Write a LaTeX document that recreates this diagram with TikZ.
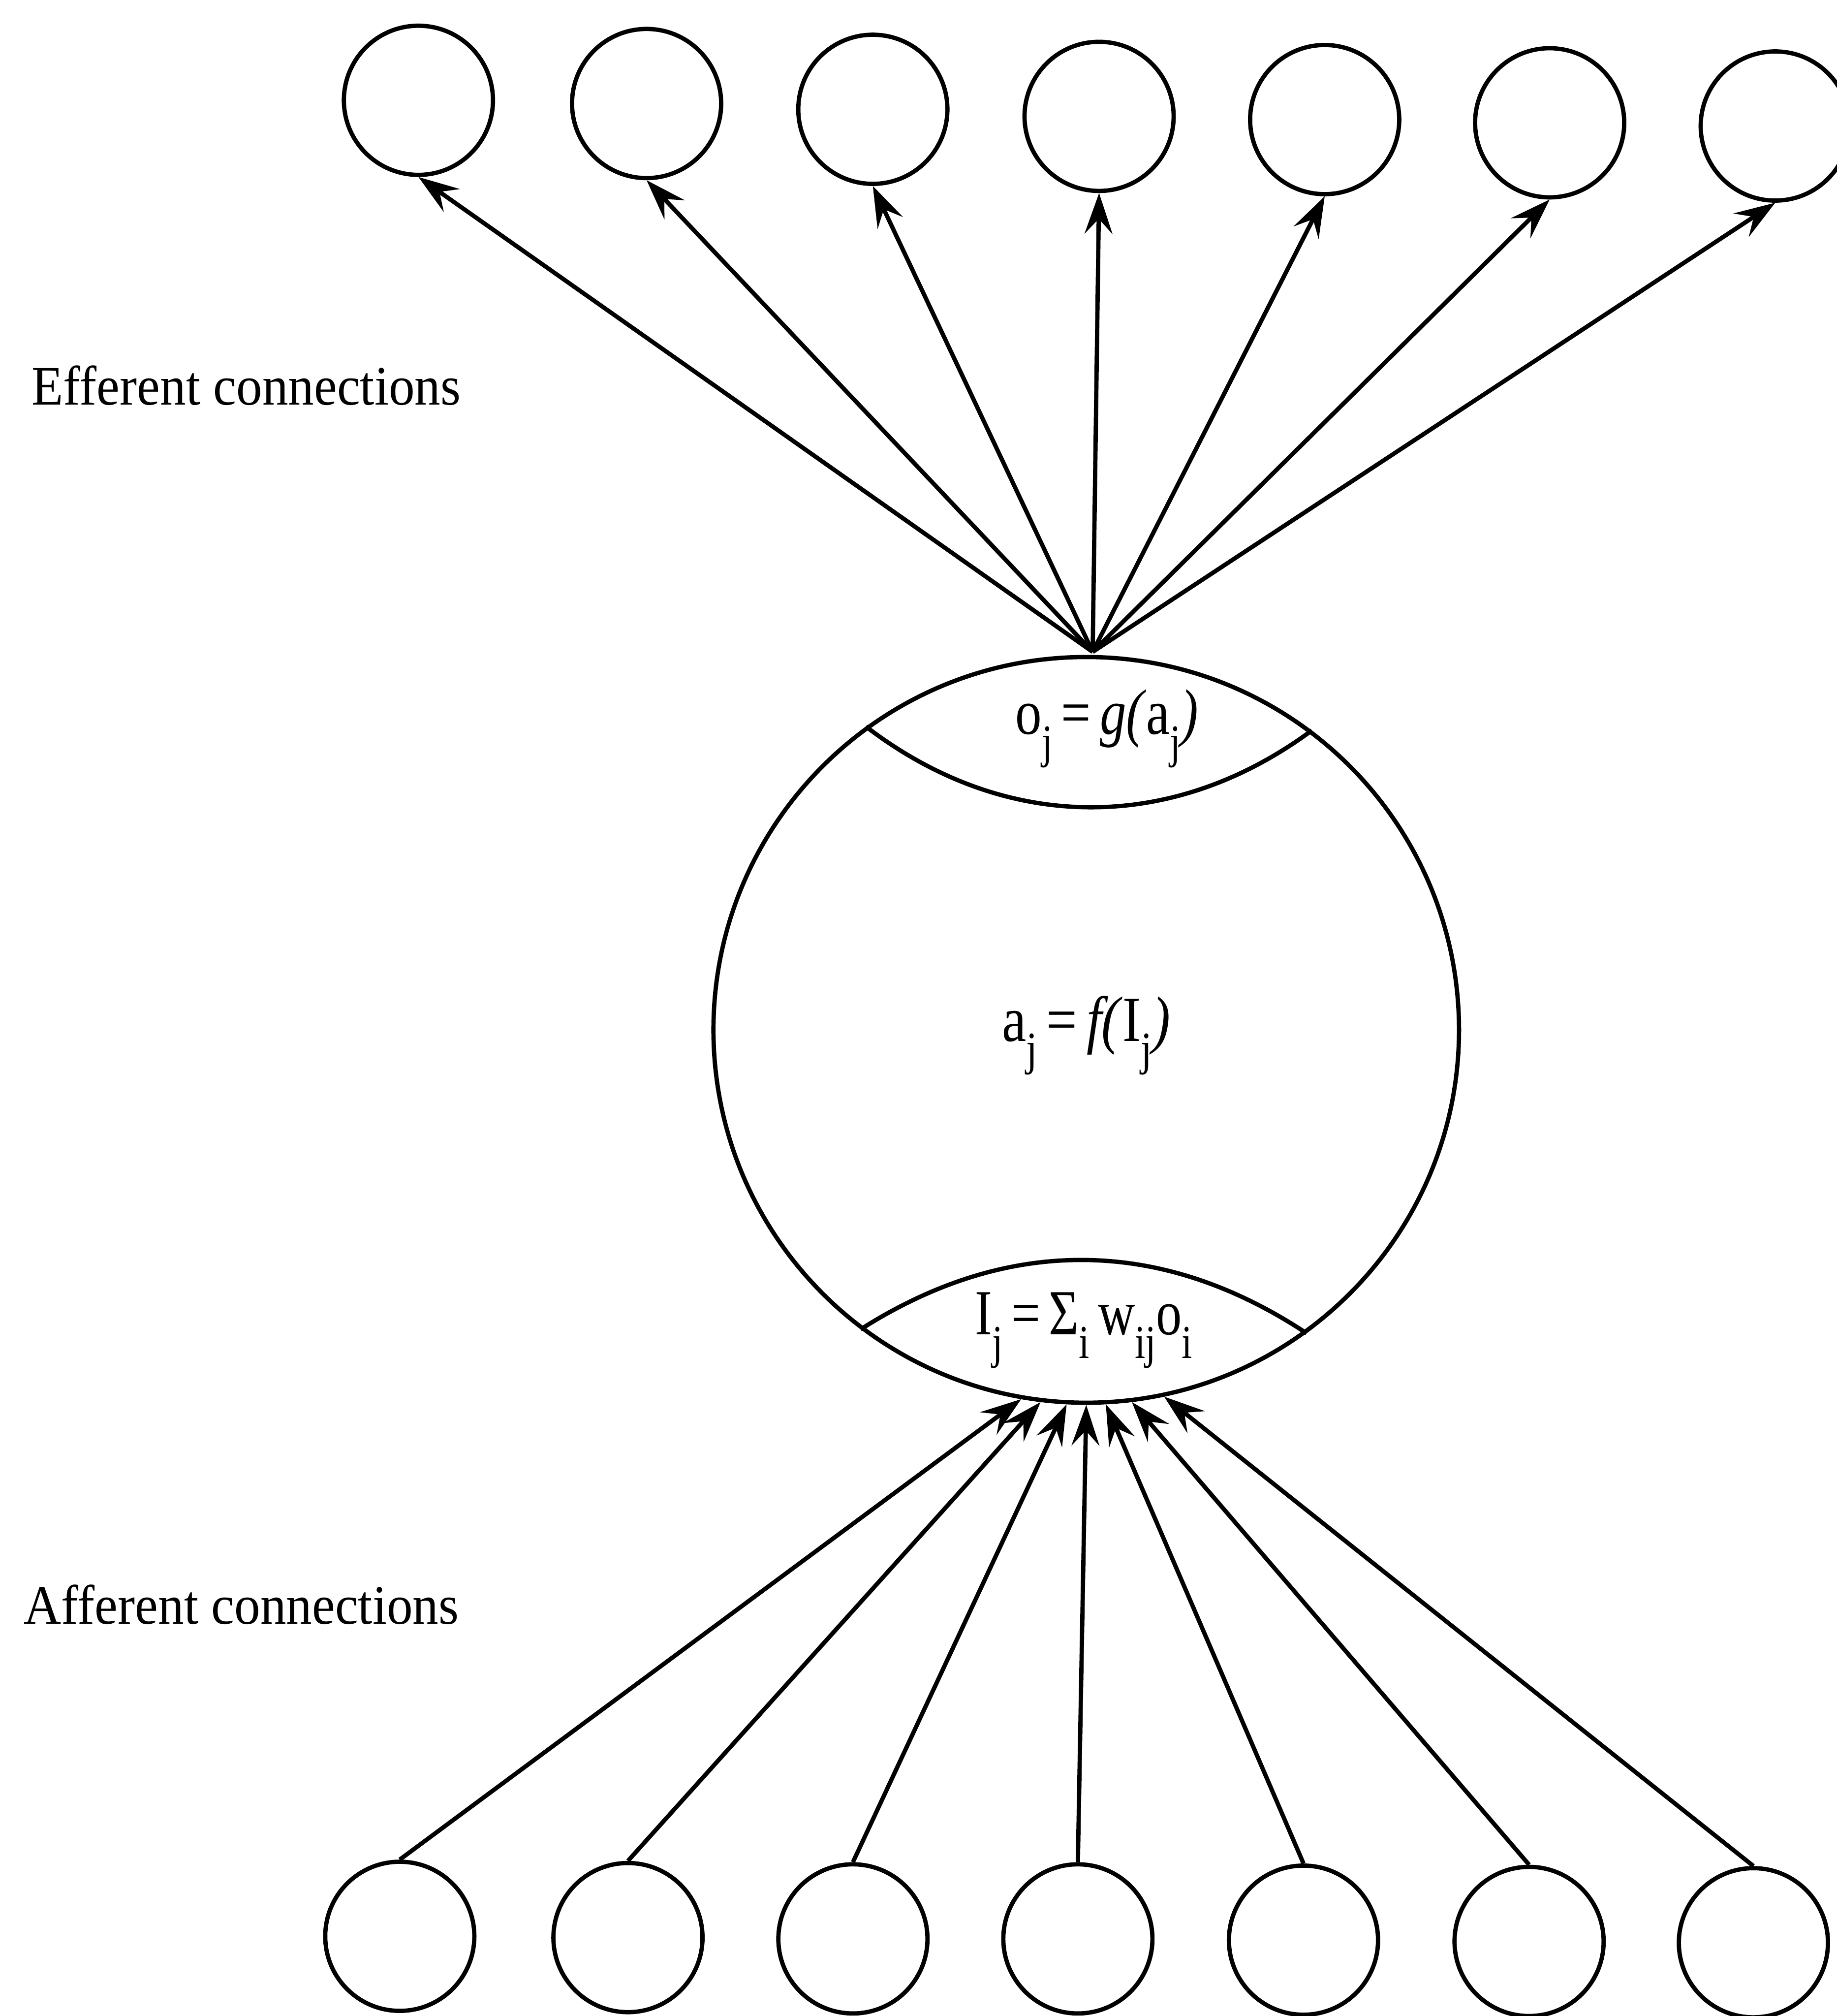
\documentclass[tikz,border=0pt]{standalone}
\usepackage{fontspec}
\usepackage{graphicx}
\setmainfont{Liberation Serif}
\usetikzlibrary{arrows.meta,calc}
% subscript set well below the baseline
\newcommand\lowsub[1]{\raisebox{-5.5pt}{\fontsize{11}{11}\selectfont #1}}
% narrow setting of the type
\newcommand\narrow[2]{\scalebox{#1}[1]{#2}}
\begin{document}
\begin{tikzpicture}[x=0.3pt,y=-0.3pt,
  unit/.style={circle,draw,line width=1pt,minimum size=34.8pt,inner sep=0pt},
  cell/.style={circle,draw,line width=1pt,minimum size=174pt,inner sep=0pt},
  link/.style={line width=1pt,-{Stealth[length=9.5pt,width=6.5pt,inset=3.5pt]}},
  lens/.style={line width=1pt},
  caption/.style={font=\fontsize{13}{15}\selectfont,anchor=base west,inner sep=0pt},
  formula/.style={font=\fontsize{15}{18}\selectfont,anchor=base,inner sep=0pt}]
\useasboundingbox (0,0) rectangle (1429,1568);

% receiving units (top row)
\foreach \i/\x/\y in {1/325.5/78, 2/503/80.5, 3/679/85, 4/855/90.5, 5/1030.5/93, 6/1205.5/95.5, 7/1381/98}
  \node[unit] (t\i) at (\x,\y) {};

% sending units (bottom row)
\foreach \i/\x/\y in {1/311/1506, 2/488.5/1507, 3/663.5/1508, 4/838.5/1508, 5/1014/1509, 6/1189.5/1510, 7/1364/1511}
  \node[unit] (b\i) at (\x,\y) {};

% the processing unit
\node[cell] (cell) at (845,801) {};
\draw[lens] (cell.126) to[bend right=37] (cell.53);
\draw[lens] (cell.-127) to[bend left=33] (cell.-54);

\node[formula] (out) at (861,571) {\narrow{0.82}{o\lowsub{j}\,=\,\textit{g(}a\lowsub{j}\textit{)}}};
\node[formula] (act) at (845,810) {\narrow{0.85}{a\lowsub{j}\,=\,\textit{f(}I\lowsub{j}\textit{)}}};
\node[formula] (net) at (843,1038) {\narrow{0.8}{I\lowsub{j}\,=\,Σ\lowsub{i}\,w\lowsub{ij}o\lowsub{i}}};

% efferent connections
\coordinate (src) at (850,507);
\foreach \i in {1,...,7}
  \draw[link] (src) -- (t\i.south);

% afferent connections
\foreach \i/\a in {1/-100,2/-97.5,3/-93.9,4/-90.6,5/-87.4,6/-83.1,7/-78.9}
  \draw[link] (b\i.north) -- (cell.\a);

\node[caption] (eff) at (24,315) {\narrow{0.93}{Efferent connections}};
\node[caption] (aff) at (18,1263) {\narrow{0.93}{Afferent connections}};
\end{tikzpicture}
\end{document}
